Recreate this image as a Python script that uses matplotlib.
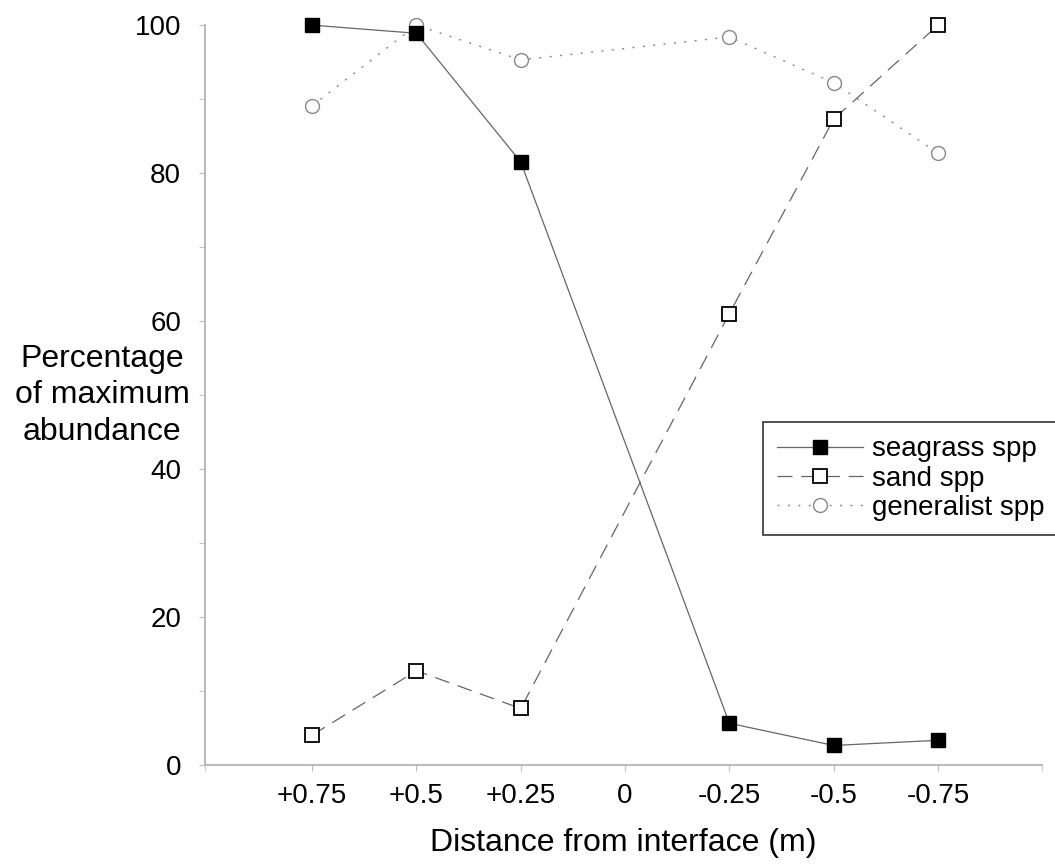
import matplotlib.pyplot as plt

plt.rcParams['font.family'] = ['Liberation Sans', 'DejaVu Sans']

# distance from interface (m), categories along x
distances = ["+0.75", "+0.5", "+0.25", "0", "-0.25", "-0.5", "-0.75"]
seagrass_x = [0, 1, 2, 4, 5, 6]
seagrass = [100, 98.9, 81.5, 5.6, 2.6, 3.3]
sand_x = [0, 1, 2, 4, 5, 6]
sand = [4.0, 12.7, 7.6, 61.0, 87.3, 100]
generalist_x = [0, 1, 2, 4, 5, 6]
generalist = [89.1, 100, 95.3, 98.4, 92.2, 82.7]

fig = plt.figure(figsize=(10.55, 8.67), dpi=100)
ax = fig.add_axes([0.194, 0.118, 0.794, 0.853])

ax.plot(seagrass_x, seagrass, color='#666666', lw=0.9, marker='s', ms=10,
        mfc='black', mec='black', label='seagrass spp', zorder=3, clip_on=False)
ax.plot(sand_x, sand, color='#666666', lw=0.9, dashes=(12, 7), marker='s', ms=10,
        mfc='white', mec='black', mew=1.3, label='sand spp', zorder=3, clip_on=False)
ax.plot(generalist_x, generalist, color='#888888', lw=1.0, dashes=(1.5, 6), marker='o', ms=10,
        mfc='white', mec='#888888', mew=1.0, label='generalist spp', zorder=2, clip_on=False)

ax.set_xlim(-1.03, 7.0)
ax.set_ylim(0, 100)
ax.set_xticks(range(len(distances)))
ax.set_xticklabels(distances)
ax.set_xticks([-1.03, 7.0], minor=True)
ax.set_yticks([0, 20, 40, 60, 80, 100])
ax.set_yticks(range(10, 100, 20), minor=True)

for side in ['top', 'right']:
    ax.spines[side].set_visible(False)
for side in ['left', 'bottom']:
    ax.spines[side].set_color('#bbbbbb')
    ax.spines[side].set_linewidth(1.5)

ax.tick_params(which='both', length=4, color='#bbbbbb', labelsize=20, pad=9)
ax.tick_params(axis='y', pad=13)

ax.set_xlabel("Distance from interface (m)", fontsize=23, labelpad=14)
fig.text(0.097, 0.544, "Percentage\nof maximum\nabundance", fontsize=23,
         ha='center', va='center', linespacing=1.28)

leg = ax.legend(loc='lower left', bbox_to_anchor=(0.723, 0.383), bbox_transform=fig.transFigure,
                fontsize=20, frameon=True, fancybox=False, edgecolor='black',
                handlelength=3.1, handletextpad=0.35, borderpad=0.5, labelspacing=0.12,
                borderaxespad=0)
leg.get_frame().set_linewidth(1.2)

fig.savefig("out.png", dpi=100)
